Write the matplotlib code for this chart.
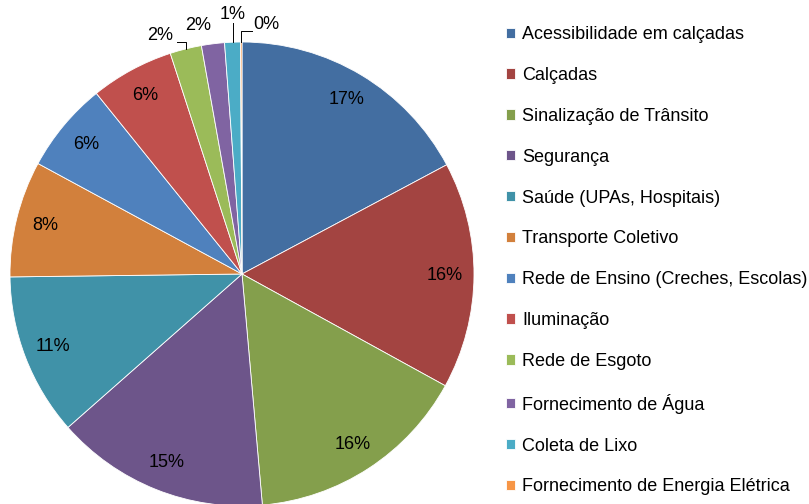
import matplotlib.pyplot as plt
import numpy as np

plt.rcParams['font.family'] = ['Liberation Sans', 'DejaVu Sans']

categories = [
    'Acessibilidade em calçadas',
    'Calçadas',
    'Sinalização de Trânsito',
    'Segurança',
    'Saúde (UPAs, Hospitais)',
    'Transporte Coletivo',
    'Rede de Ensino (Creches, Escolas)',
    'Iluminação',
    'Rede de Esgoto',
    'Fornecimento de Água',
    'Coleta de Lixo',
    'Fornecimento de Energia Elétrica',
]
shares = [17.2, 15.8, 15.6, 14.9, 11.3, 8.1, 6.3, 5.8, 2.2, 1.6, 1.1, 0.1]
colors = ['#436EA1', '#A34441', '#849F4C', '#6D558A', '#4092A8', '#D2803C',
          '#4F81BD', '#C0504D', '#9BBB59', '#8064A2', '#4BACC6', '#F79646']

fig = plt.figure(figsize=(8.09, 5.04), dpi=100)
ax = fig.add_axes([10 / 809, -2 / 504, 464 / 809, 464 / 504])

wedges, _ = ax.pie(shares, colors=colors, startangle=90, counterclock=False,
                   wedgeprops=dict(edgecolor='white', linewidth=0.6))
ax.set_xlim(-1, 1)
ax.set_ylim(-1, 1)
ax.set_aspect('equal')

total = sum(shares)
fs = 13
# the four smallest slices get their labels outside the pie
outside = {8: (-0.297, 1.03, 'right'),
           9: (-0.19, 1.07, 'center'),
           10: (-0.04, 1.12, 'center'),
           11: (0.047, 1.075, 'left')}
for i, w in enumerate(wedges):
    mid = np.deg2rad((w.theta1 + w.theta2) / 2)
    txt = '%.0f%%' % (shares[i] / total * 100)
    if i in outside:
        tx, ty, ha = outside[i]
        ax.text(tx, ty, txt, ha=ha, va='center', fontsize=fs, clip_on=False)
        ex, ey = np.cos(mid), np.sin(mid)
        if i == 8:
            ax.plot([ex, ex, -0.28], [ey, 1.0, 1.0], color='black', lw=0.7, clip_on=False)
        elif i == 10:
            ax.plot([ex, ex], [ey, 1.082], color='black', lw=0.7, clip_on=False)
        elif i == 11:
            ax.plot([ex, ex, 0.044], [ey, 1.047, 1.047], color='black', lw=0.7, clip_on=False)
    else:
        r = 0.875
        ax.text(r * np.cos(mid), r * np.sin(mid), txt, ha='center', va='center',
                fontsize=fs)

fig.legend(wedges, categories, loc='upper left', bbox_to_anchor=(499 / 809, 1 - 19 / 504),
           frameon=False, fontsize=fs, handlelength=0.5, handleheight=0.5,
           handletextpad=0.4, labelspacing=1.32, borderaxespad=0)

fig.savefig('out.png', dpi=100)
